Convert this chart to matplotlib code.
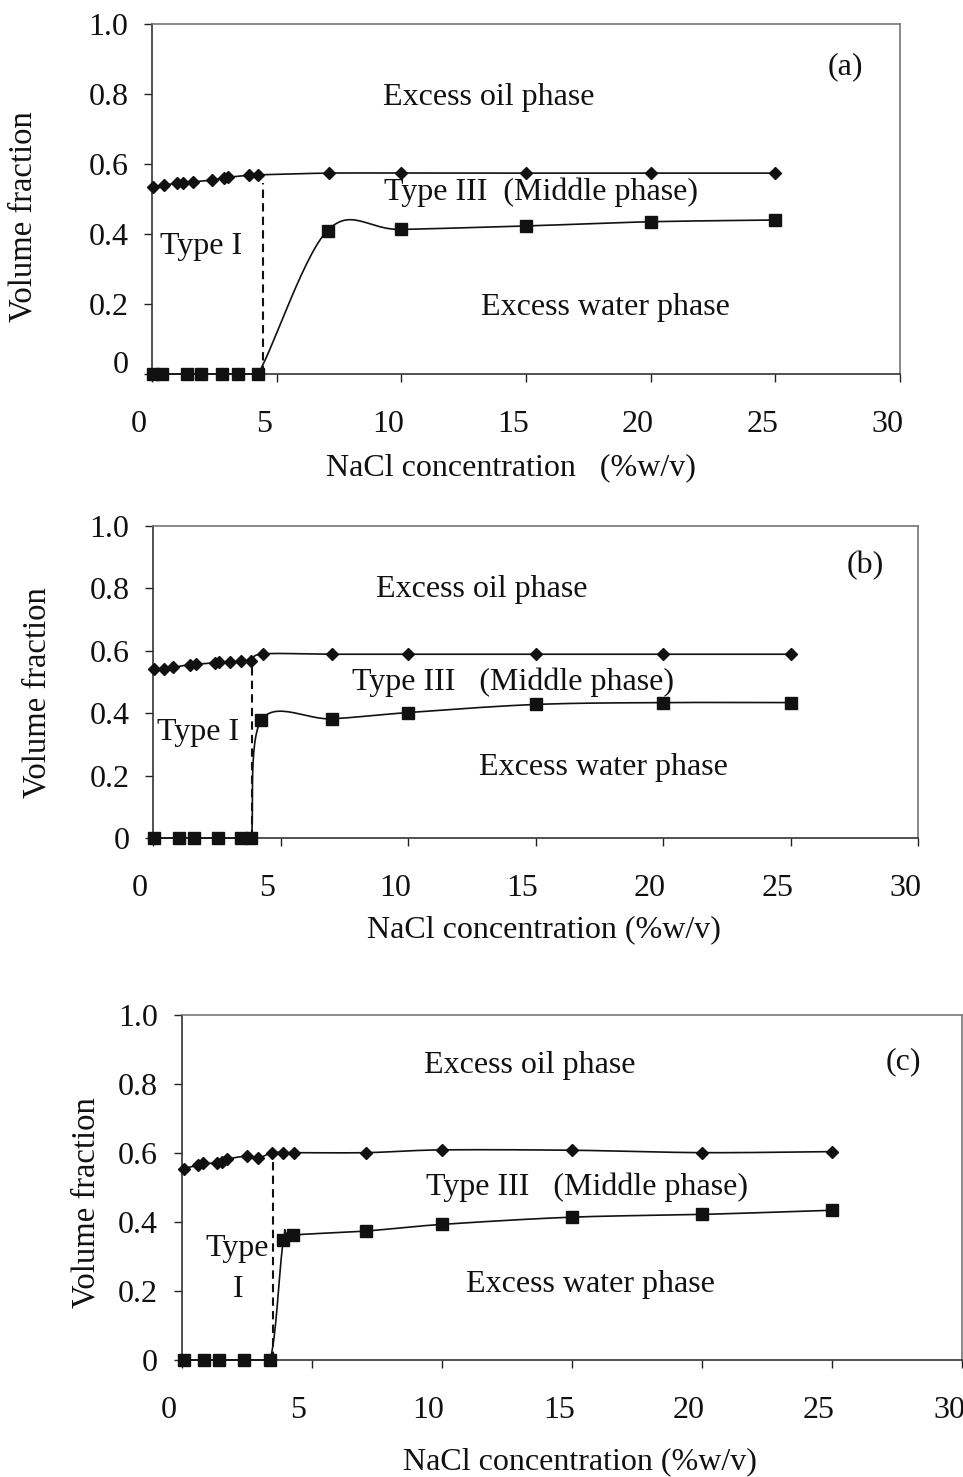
import numpy as np
import matplotlib
matplotlib.use("Agg")
import matplotlib.pyplot as plt
from matplotlib.transforms import ScaledTranslation

# ---------------- data ----------------
a_oil_x = [0.05, 0.5, 1.0, 1.25, 1.65, 2.4, 2.9, 3.05, 3.9, 4.25, 7.1, 10.0, 15.0, 20.0, 25.0]
a_oil_y = [0.535, 0.540, 0.545, 0.546, 0.549, 0.554, 0.560, 0.562, 0.568, 0.569, 0.574, 0.574, 0.574, 0.574, 0.574]
a_wat_x = [0.05, 0.42, 1.41, 1.98, 2.81, 3.46, 4.25, 7.04, 10.0, 15.0, 20.0, 25.0]
a_wat_y = [0, 0, 0, 0, 0, 0, 0, 0.410, 0.413, 0.423, 0.435, 0.440]
a_bound = (4.45, 0.545)

b_oil_x = [0.05, 0.45, 0.8, 1.45, 1.7, 2.45, 2.6, 3.0, 3.45, 3.85, 4.3, 7.0, 10.0, 15.0, 20.0, 25.0]
b_oil_y = [0.542, 0.542, 0.547, 0.556, 0.557, 0.562, 0.563, 0.564, 0.566, 0.567, 0.590, 0.589, 0.589, 0.589, 0.589, 0.589]
b_wat_x = [0.05, 1.0, 1.6, 2.55, 3.45, 3.85, 4.25, 7.0, 10.0, 15.0, 20.0, 25.0]
b_wat_y = [0, 0, 0, 0, 0, 0, 0.378, 0.382, 0.402, 0.428, 0.434, 0.434]
b_bound = (3.9, 0.565)

c_oil_x = [0.1, 0.65, 0.84, 1.36, 1.55, 1.74, 2.5, 2.95, 3.46, 3.9, 4.31, 7.1, 10.0, 15.0, 20.0, 25.0]
c_oil_y = [0.555, 0.565, 0.570, 0.570, 0.575, 0.582, 0.591, 0.585, 0.601, 0.601, 0.601, 0.601, 0.609, 0.608, 0.601, 0.604]
c_wat_x = [0.1, 0.85, 1.45, 2.42, 3.4, 3.92, 4.3, 7.1, 10.0, 15.0, 20.0, 25.0]
c_wat_y = [0, 0, 0, 0, 0, 0.348, 0.362, 0.374, 0.393, 0.414, 0.422, 0.434]
c_bound = (3.5, 0.600)

x_ticks = [0, 5, 10, 15, 20, 25, 30]
y_ticks = [0, 0.2, 0.4, 0.6, 0.8, 1.0]
y_ticklabels = ["0", "0.2", "0.4", "0.6", "0.8", "1.0"]

FONT = "Liberation Serif"
FS = 23

def smooth(xs, ys, n=30):
    """Excel-like smoothed line (Catmull-Rom / cubic Bezier through points)."""
    P = np.column_stack([xs, ys]).astype(float)
    P = np.vstack([P[0], P, P[-1]])
    out = []
    t = np.linspace(0, 1, n)
    for i in range(1, len(P) - 2):
        p0, p1, p2, p3 = P[i - 1], P[i], P[i + 1], P[i + 2]
        c1 = p1 + (p2 - p0) / 6.0
        c2 = p2 - (p3 - p1) / 6.0
        seg = ((1 - t) ** 3)[:, None] * p1 + (3 * (1 - t) ** 2 * t)[:, None] * c1 \
            + (3 * (1 - t) * t ** 2)[:, None] * c2 + (t ** 3)[:, None] * p2
        out.append(seg)
    S = np.vstack(out)
    return S[:, 0], np.maximum(S[:, 1], 0.0)

W, H = 963, 1477
fig = plt.figure(figsize=(W / 100, H / 100), dpi=100)

def px_axes(l, r, t, b):
    return fig.add_axes([l / W, 1 - b / H, (r - l) / W, (b - t) / H])

panels = [
    dict(box=(152, 900, 24, 374), oil=(a_oil_x, a_oil_y), wat=(a_wat_x, a_wat_y), bound=a_bound,
         tag="(a)", tagpos=(27.8, 0.877),
         texts=[("Excess oil phase", 13.5, 0.791), ("Type III  (Middle phase)", 15.6, 0.52),
                ("Type I", 1.96, 0.363), ("Excess water phase", 18.2, 0.191)],
         xlabel="NaCl concentration   (%w/v)", xlab=(511, 468), ylab=(-0.152, 0.449)),
    dict(box=(153, 918, 526, 838), oil=(b_oil_x, b_oil_y), wat=(b_wat_x, b_wat_y), bound=b_bound,
         tag="(b)", tagpos=(27.95, 0.874),
         texts=[("Excess oil phase", 12.9, 0.797), ("Type III   (Middle phase)", 14.1, 0.50),
                ("Type I", 1.76, 0.339), ("Excess water phase", 17.65, 0.226)],
         xlabel="NaCl concentration (%w/v)", xlab=(544, 930), ylab=(-0.131, 0.465)),
    dict(box=(181.5, 962, 1015, 1360), oil=(c_oil_x, c_oil_y), wat=(c_wat_x, c_wat_y), bound=c_bound,
         tag="(c)", tagpos=(27.75, 0.864),
         texts=[("Excess oil phase", 13.4, 0.855), ("Type III   (Middle phase)", 15.6, 0.501),
                ("Type", 2.13, 0.322), ("I", 2.17, 0.203), ("Excess water phase", 15.7, 0.22)],
         xlabel="NaCl concentration (%w/v)", xlab=(580, 1462), ylab=(-0.103, 0.455)),
]

for k, p in enumerate(panels):
    ax = px_axes(*p["box"])
    ax.set_xlim(0, 30)
    ax.set_ylim(0, 1.0)
    for (xs, ys), mk, ms in [(p["oil"], "D", 6.5), (p["wat"], "s", 8.0)]:
        sx, sy = smooth(xs, ys)
        ax.plot(sx, sy, color="#111111", lw=1.2, zorder=3, clip_on=False)
        ax.plot(xs, ys, linestyle="none", marker=mk, ms=ms, color="#111111", zorder=4, clip_on=False)
    bx, by = p["bound"]
    ax.plot([bx, bx], [0, by], color="#111111", lw=1.5, ls=(0, (4, 2.5)), zorder=2)

    ax.set_xticks(x_ticks)
    ax.set_xticklabels([str(v) for v in x_ticks])
    ax.set_yticks(y_ticks)
    ax.set_yticklabels(y_ticklabels)
    ax.tick_params(axis="both", direction="out", length=6, width=1, colors="#222222",
                   labelsize=FS, labelcolor="#111111")
    ax.tick_params(axis="x", pad=20)
    ax.tick_params(axis="y", pad=11)
    for lab in ax.get_xticklabels() + ax.get_yticklabels():
        lab.set_fontfamily(FONT)
    off = ScaledTranslation(-13 / 100, 0, fig.dpi_scale_trans)
    for lab in ax.get_xticklabels():
        lab.set_transform(lab.get_transform() + off)
    if k == 0:
        up = ScaledTranslation(0, 12 / 100, fig.dpi_scale_trans)
        yl = ax.get_yticklabels()[0]
        yl.set_transform(yl.get_transform() + up)

    for side in ["left", "bottom"]:
        ax.spines[side].set_color("#333333")
        ax.spines[side].set_linewidth(1.2)
    for side in ["top", "right"]:
        ax.spines[side].set_color("#777777")
        ax.spines[side].set_linewidth(1.2)

    ax.text(p["tagpos"][0], p["tagpos"][1], p["tag"], fontsize=FS, family=FONT,
            ha="center", va="center", color="#111111")
    for s, x, y in p["texts"]:
        ax.text(x, y, s, fontsize=FS, family=FONT, ha="center", va="center", color="#111111")

    ax.set_ylabel("Volume fraction", fontsize=FS + 0.5, family=FONT, color="#111111")
    ax.yaxis.set_label_coords(*p["ylab"])
    fig.text(p["xlab"][0] / W, 1 - p["xlab"][1] / H, p["xlabel"], fontsize=FS, family=FONT,
             ha="center", va="center", color="#111111")

fig.savefig("out.png", dpi=100)
